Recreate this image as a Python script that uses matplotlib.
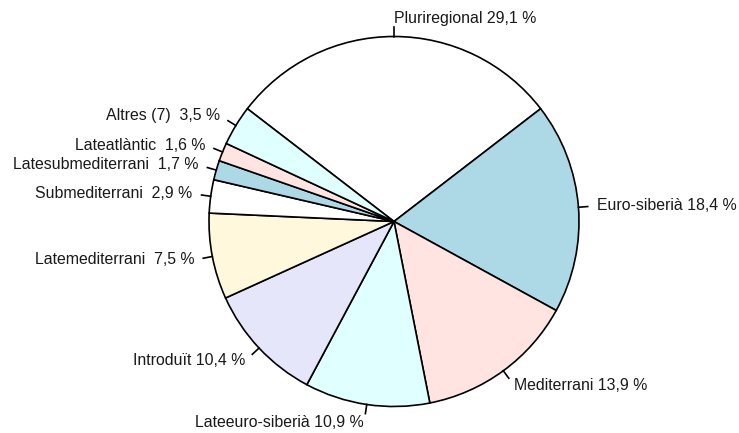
import numpy as np
import matplotlib
matplotlib.use("Agg")
import matplotlib.pyplot as plt

labels = ["Pluriregional 29,1 %", "Euro-siberià 18,4 %", "Mediterrani 13,9 %",
          "Lateeuro-siberià 10,9 %", "Introduït 10,4 %", "Latemediterrani  7,5 %",
          "Submediterrani  2,9 %", "Latesubmediterrani  1,7 %", "Lateatlàntic  1,6 %",
          "Altres (7)  3,5 %"]
values = [29.1, 18.4, 13.9, 10.9, 10.4, 7.5, 2.9, 1.7, 1.6, 3.5]
colors = ["white", "#ADD8E6", "#FFE4E1", "#E0FFFF", "#E6E6FA", "#FFF8DC"] * 2
colors = colors[:len(values)]

W, H = 739, 433
cx, cy, R = 394, 221.5, 185.0

fig = plt.figure(figsize=(W / 100, H / 100), dpi=100)
ax = fig.add_axes([0, 0, 1, 1])

total = sum(values)
start = 90 + values[0] / total * 180
ax.pie(values, colors=colors, startangle=start, counterclock=False, radius=1,
       wedgeprops=dict(edgecolor="black", linewidth=1.2), frame=True)
ax.set_xlim(-cx / R, (W - cx) / R)
ax.set_ylim(-(H - cy) / R, cy / R)
ax.set_aspect("equal")
ax.axis("off")

cum = 0
for v, lab in zip(values, labels):
    mid = start - (cum + v / 2) / total * 360
    cum += v
    a = np.deg2rad(mid)
    x, y = np.cos(a), np.sin(a)
    ax.plot([x, 1.05 * x], [y, 1.05 * y], color="black", lw=1.2)
    ax.text(1.1 * x, 1.1 * y, lab, ha="left" if x >= -1e-9 else "right",
            va="center", fontsize=11.4, family="Liberation Sans", color="#1a1a1a")

fig.savefig("out.png", dpi=100)
